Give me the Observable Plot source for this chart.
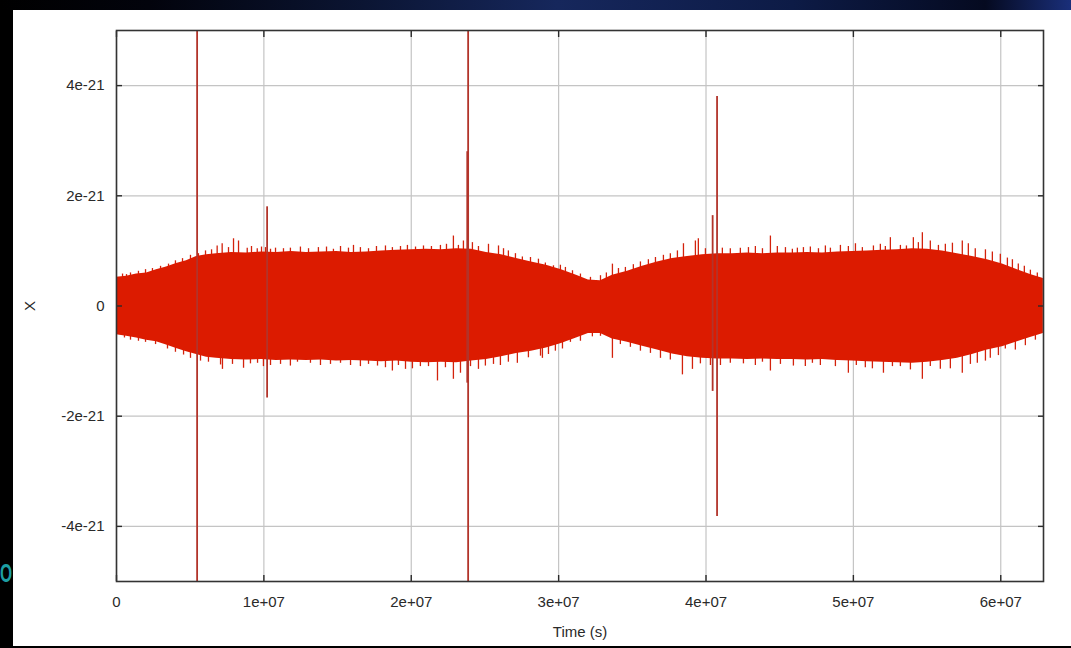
<!DOCTYPE html>
<html>
<head>
<meta charset="utf-8">
<script src="https://cdn.jsdelivr.net/npm/d3@7"></script>
<script src="https://cdn.jsdelivr.net/npm/@observablehq/plot@0.6"></script>
<style>
  html, body { margin: 0; padding: 0; }
  body { width: 1071px; height: 648px; overflow: hidden; position: relative; background: #000; font-family: "Liberation Sans", Arial, sans-serif; }
  #topstrip { position: absolute; left: 0; top: 0; width: 1071px; height: 10px;
    background: linear-gradient(90deg, #000 0%, #02030c 14%, #0b1533 34%, #16275c 52%, #0d1b46 74%, #050a20 92%, #1a2f7a 100%); }
  #panel { position: absolute; left: 13px; top: 10px; width: 1058px; height: 636px; background: #fff; }
  #logo { position: absolute; left: 0px; top: 560px; font: bold 26px/26px "Liberation Sans", Arial, sans-serif; color: #1d9ea3;
    transform: scaleX(0.6); transform-origin: 0 0; }
  #chart { position: absolute; left: 0; top: 0; }
</style>
</head>
<body>
<div id="topstrip"></div>
<div id="logo">O</div>
<div id="panel"></div>
<div id="chart"></div>
<script>
// ---- Data ----
// Envelope of the dense oscillating signal (time in s, strain X)
const envT = [0, 0.68e6, 1.36e6, 2.04e6, 2.71e6, 3.39e6, 4.07e6, 4.75e6, 5.43e6, 6.11e6,
  6.78e6, 7.80e6, 8.82e6, 9.84e6, 10.85e6, 11.87e6, 12.89e6, 13.91e6, 14.93e6, 15.94e6,
  16.96e6, 17.98e6, 19.00e6, 20.01e6, 21.03e6, 22.05e6, 23.07e6, 24.08e6, 25.10e6, 26.12e6,
  27.14e6, 28.15e6, 29.17e6, 30.19e6, 31.21e6, 32.02e6, 32.84e6, 33.65e6, 34.67e6, 35.69e6,
  36.70e6, 37.72e6, 38.74e6, 39.76e6, 40.78e6, 41.79e6, 42.81e6, 43.83e6, 44.84e6, 45.86e6,
  46.88e6, 47.90e6, 48.92e6, 49.93e6, 50.95e6, 51.97e6, 52.99e6, 54.00e6, 55.02e6, 56.04e6,
  57.06e6, 58.07e6, 59.09e6, 60.11e6, 61.13e6, 62.01e6, 62.89e6];
const envHi = [0.52e-21, 0.54e-21, 0.58e-21, 0.60e-21, 0.66e-21, 0.71e-21, 0.77e-21, 0.82e-21, 0.90e-21, 0.93e-21,
  0.95e-21, 0.97e-21, 0.96e-21, 0.98e-21, 0.97e-21, 0.99e-21, 0.97e-21, 0.98e-21, 0.99e-21, 0.97e-21,
  0.98e-21, 1.00e-21, 1.01e-21, 1.02e-21, 1.03e-21, 1.02e-21, 1.04e-21, 1.03e-21, 0.97e-21, 0.93e-21,
  0.86e-21, 0.80e-21, 0.74e-21, 0.66e-21, 0.56e-21, 0.47e-21, 0.46e-21, 0.56e-21, 0.63e-21, 0.72e-21,
  0.80e-21, 0.86e-21, 0.90e-21, 0.93e-21, 0.95e-21, 0.95e-21, 0.96e-21, 0.95e-21, 0.96e-21, 0.96e-21,
  0.97e-21, 0.96e-21, 0.98e-21, 0.99e-21, 1.00e-21, 1.01e-21, 1.02e-21, 1.04e-21, 1.03e-21, 1.00e-21,
  0.95e-21, 0.90e-21, 0.84e-21, 0.76e-21, 0.66e-21, 0.57e-21, 0.50e-21];
const envLo = [-0.52e-21, -0.55e-21, -0.58e-21, -0.62e-21, -0.65e-21, -0.71e-21, -0.77e-21, -0.83e-21, -0.88e-21, -0.93e-21,
  -0.95e-21, -0.97e-21, -0.98e-21, -0.97e-21, -0.99e-21, -0.98e-21, -0.99e-21, -0.98e-21, -1.00e-21, -0.99e-21,
  -1.00e-21, -1.01e-21, -1.00e-21, -1.02e-21, -1.03e-21, -1.02e-21, -1.03e-21, -1.00e-21, -0.97e-21, -0.92e-21,
  -0.86e-21, -0.82e-21, -0.76e-21, -0.68e-21, -0.58e-21, -0.50e-21, -0.50e-21, -0.60e-21, -0.66e-21, -0.73e-21,
  -0.80e-21, -0.87e-21, -0.92e-21, -0.95e-21, -0.96e-21, -0.96e-21, -0.97e-21, -0.96e-21, -0.97e-21, -0.97e-21,
  -0.98e-21, -0.97e-21, -0.99e-21, -1.00e-21, -1.01e-21, -1.02e-21, -1.03e-21, -1.04e-21, -1.02e-21, -0.99e-21,
  -0.95e-21, -0.88e-21, -0.80e-21, -0.74e-21, -0.65e-21, -0.57e-21, -0.50e-21];

// Larger excursions poking out of the envelope (upper and lower fringe)
const fringeUpT = [0.41e6, 0.95e6, 1.97e6, 2.99e6, 4.00e6, 5.02e6, 6.04e6, 6.83e6, 7.17e6, 7.94e6,
  8.28e6, 8.87e6, 9.55e6, 10.11e6, 10.79e6, 11.33e6, 12.48e6, 13.70e6, 15.20e6, 16.55e6,
  18.25e6, 19.27e6, 20.83e6, 21.98e6, 22.86e6, 23.54e6, 24.15e6, 25.92e6, 26.59e6, 27.54e6,
  29.10e6, 29.65e6, 30.46e6, 31.48e6, 33.65e6, 34.53e6, 35.55e6, 36.57e6, 37.58e6, 38.47e6,
  39.28e6, 39.48e6, 42.33e6, 43.35e6, 44.37e6, 45.39e6, 46.20e6, 47.08e6, 48.44e6, 49.12e6,
  50.14e6, 51.36e6, 52.51e6, 53.19e6, 54.07e6, 54.68e6, 55.22e6, 56.24e6, 57.39e6, 57.80e6,
  58.96e6, 60.45e6, 61.19e6, 62.01e6];
const fringeUpV = [0.58e-21, 0.60e-21, 0.66e-21, 0.72e-21, 0.82e-21, 0.92e-21, 1.00e-21, 1.09e-21, 1.13e-21, 1.22e-21,
  1.18e-21, 1.05e-21, 1.04e-21, 1.06e-21, 1.05e-21, 1.04e-21, 1.07e-21, 1.06e-21, 1.08e-21, 1.06e-21,
  1.09e-21, 1.08e-21, 1.09e-21, 1.10e-21, 1.27e-21, 1.18e-21, 1.15e-21, 1.09e-21, 1.00e-21, 0.89e-21,
  0.78e-21, 0.73e-21, 0.70e-21, 0.58e-21, 0.76e-21, 0.70e-21, 0.80e-21, 0.88e-21, 0.95e-21, 1.13e-21,
  1.18e-21, 1.22e-21, 1.05e-21, 1.08e-21, 1.27e-21, 1.06e-21, 1.05e-21, 1.07e-21, 1.05e-21, 1.10e-21,
  1.13e-21, 1.09e-21, 1.24e-21, 1.10e-21, 1.24e-21, 1.33e-21, 1.18e-21, 1.12e-21, 1.18e-21, 1.13e-21,
  1.02e-21, 0.87e-21, 0.76e-21, 0.65e-21];
const fringeLoT = [0.95e6, 1.97e6, 3.46e6, 4.55e6, 5.70e6, 7.06e6, 7.19e6, 8.62e6, 9.57e6, 10.45e6,
  12.28e6, 13.16e6, 14.52e6, 15.88e6, 17.71e6, 18.72e6, 19.61e6, 20.62e6, 21.78e6, 22.86e6,
  23.34e6, 25.03e6, 26.05e6, 27.20e6, 28.77e6, 28.90e6, 29.78e6, 30.80e6, 32.84e6, 33.65e6,
  34.87e6, 36.91e6, 38.40e6, 39.08e6, 39.62e6, 40.98e6, 42.54e6, 44.37e6, 45.93e6, 47.76e6,
  49.66e6, 50.81e6, 52.04e6, 53.19e6, 54.68e6, 55.90e6, 57.39e6, 58.41e6, 59.29e6, 60.31e6,
  61.67e6];
const fringeLoV = [-0.62e-21, -0.66e-21, -0.78e-21, -0.89e-21, -1.00e-21, -1.07e-21, -1.15e-21, -1.13e-21, -1.04e-21, -1.08e-21,
  -1.02e-21, -1.04e-21, -1.06e-21, -1.08e-21, -1.09e-21, -1.18e-21, -1.15e-21, -1.10e-21, -1.36e-21, -1.33e-21,
  -1.22e-21, -1.09e-21, -1.08e-21, -1.04e-21, -0.91e-21, -0.95e-21, -0.82e-21, -0.66e-21, -0.55e-21, -0.95e-21,
  -0.75e-21, -0.95e-21, -1.25e-21, -1.15e-21, -1.05e-21, -1.08e-21, -1.05e-21, -1.18e-21, -1.09e-21, -1.08e-21,
  -1.22e-21, -1.12e-21, -1.22e-21, -1.10e-21, -1.33e-21, -1.15e-21, -1.22e-21, -1.04e-21, -0.95e-21, -0.78e-21,
  -0.72e-21];

// Shorter hairs along the envelope edge
const hairUpT = [0.68e6, 1.49e6, 2.44e6, 3.53e6, 4.48e6, 5.56e6, 6.45e6, 7.60e6, 9.16e6, 9.84e6,
  10.45e6, 11.80e6, 13.03e6, 14.25e6, 14.72e6, 15.74e6, 16.08e6, 17.10e6, 17.64e6, 18.72e6,
  19.74e6, 20.29e6, 21.37e6, 22.39e6, 23.20e6, 24.56e6, 25.24e6, 26.26e6, 27.07e6, 28.09e6,
  28.63e6, 30.12e6, 30.94e6, 32.16e6, 32.84e6, 33.24e6, 34.06e6, 35.07e6, 36.09e6, 37.11e6,
  38.06e6, 39.96e6, 41.11e6, 41.65e6, 42.88e6, 43.83e6, 44.84e6, 45.86e6, 46.61e6, 47.63e6,
  48.10e6, 49.66e6, 50.61e6, 51.83e6, 52.17e6, 53.60e6, 54.41e6, 55.77e6, 56.72e6, 58.27e6,
  59.43e6, 59.97e6, 60.79e6, 61.60e6, 62.48e6];
const hairUpV = [0.57e-21, 0.63e-21, 0.68e-21, 0.76e-21, 0.86e-21, 0.95e-21, 1.02e-21, 1.06e-21, 1.08e-21, 1.07e-21,
  1.03e-21, 1.05e-21, 1.04e-21, 1.07e-21, 1.03e-21, 1.05e-21, 1.10e-21, 1.04e-21, 1.08e-21, 1.06e-21,
  1.10e-21, 1.07e-21, 1.08e-21, 1.12e-21, 1.10e-21, 1.08e-21, 1.12e-21, 1.04e-21, 0.95e-21, 0.88e-21,
  0.85e-21, 0.74e-21, 0.64e-21, 0.52e-21, 0.55e-21, 0.60e-21, 0.68e-21, 0.75e-21, 0.84e-21, 0.92e-21,
  1.00e-21, 1.04e-21, 1.05e-21, 1.04e-21, 1.06e-21, 1.04e-21, 1.08e-21, 1.03e-21, 1.06e-21, 1.04e-21,
  1.09e-21, 1.08e-21, 1.06e-21, 1.12e-21, 1.08e-21, 1.09e-21, 1.15e-21, 1.10e-21, 1.14e-21, 1.04e-21,
  0.98e-21, 0.94e-21, 0.84e-21, 0.72e-21, 0.60e-21];
const hairLoT = [0.54e6, 1.49e6, 2.65e6, 4.00e6, 5.02e6, 6.24e6, 7.87e6, 9.09e6, 9.97e6, 11.13e6,
  11.80e6, 13.84e6, 15.20e6, 16.55e6, 17.10e6, 18.25e6, 19.13e6, 20.08e6, 21.17e6, 22.32e6,
  24.02e6, 24.56e6, 25.58e6, 26.59e6, 27.95e6, 29.31e6, 30.26e6, 31.48e6, 32.29e6, 34.19e6,
  35.55e6, 36.23e6, 37.58e6, 40.30e6, 41.65e6, 43.35e6, 43.83e6, 45.05e6, 46.74e6, 47.22e6,
  48.78e6, 50.20e6, 51.29e6, 52.65e6, 53.87e6, 55.22e6, 56.58e6, 57.94e6, 58.96e6, 59.84e6,
  60.99e6, 62.35e6];
const hairLoV = [-0.58e-21, -0.64e-21, -0.70e-21, -0.84e-21, -0.95e-21, -1.02e-21, -1.06e-21, -1.05e-21, -1.10e-21, -1.06e-21,
  -1.09e-21, -1.08e-21, -1.04e-21, -1.10e-21, -1.06e-21, -1.12e-21, -1.08e-21, -1.14e-21, -1.10e-21, -1.12e-21,
  -1.10e-21, -1.15e-21, -1.06e-21, -1.02e-21, -0.94e-21, -0.88e-21, -0.78e-21, -0.64e-21, -0.56e-21, -0.70e-21,
  -0.82e-21, -0.86e-21, -0.98e-21, -1.08e-21, -1.04e-21, -1.08e-21, -1.02e-21, -1.06e-21, -1.10e-21, -1.04e-21,
  -1.10e-21, -1.08e-21, -1.14e-21, -1.10e-21, -1.16e-21, -1.10e-21, -1.14e-21, -1.06e-21, -1.00e-21, -0.90e-21,
  -0.80e-21, -0.62e-21];

// Large spikes (glitches / signals)
const spikeT  = [5.47e6, 10.22e6, 23.80e6, 23.86e6, 40.45e6, 40.75e6];
const spikeHi = [5.0e-21, 1.80e-21, 2.80e-21, 5.0e-21, 1.64e-21, 3.80e-21];
const spikeLo = [-5.0e-21, -1.67e-21, -1.40e-21, -5.0e-21, -1.55e-21, -3.82e-21];

// Axes
const xTicks = [0, 1e7, 2e7, 3e7, 4e7, 5e7, 6e7];
const xTickLabels = ["0", "1e+07", "2e+07", "3e+07", "4e+07", "5e+07", "6e+07"];
const yTicks = [-4e-21, -2e-21, 0, 2e-21, 4e-21];
const yTickLabels = ["-4e-21", "-2e-21", "0", "2e-21", "4e-21"];
const xDomain = [0, 6.29e7];
const yDomain = [-5e-21, 5e-21];
const xLabel = "Time (s)";
const yLabel = "X";

// ---- Build tables ----
const env = envT.map((t, i) => ({t, hi: envHi[i], lo: envLo[i]}));
const fUp = fringeUpT.map((t, i) => ({t, v: fringeUpV[i]}));
const fLo = fringeLoT.map((t, i) => ({t, v: fringeLoV[i]}));
const hUp = hairUpT.map((t, i) => ({t, v: hairUpV[i]}));
const hLo = hairLoT.map((t, i) => ({t, v: hairLoV[i]}));
const spikes = spikeT.map((t, i) => ({t, hi: spikeHi[i], lo: spikeLo[i]}));
const xLab = new Map(xTicks.map((d, i) => [d, xTickLabels[i]]));
const yLab = new Map(yTicks.map((d, i) => [d, yTickLabels[i]]));

const RED = "#dc1b00";
const FRINGE = "#d3220c";
const SPIKE = "#b2342a";
const GRID = "#c4c4c4";
const INK = "#2a2a2a";

const chart = Plot.plot({
  width: 1071,
  height: 648,
  marginLeft: 116,
  marginRight: 28,
  marginTop: 30,
  marginBottom: 67,
  style: {background: "transparent", fontFamily: "'Liberation Sans', Arial, sans-serif", fontSize: "15px", color: INK},
  x: {domain: xDomain},
  y: {domain: yDomain},
  marks: [
    Plot.gridX(xTicks, {stroke: GRID, strokeOpacity: 1, strokeWidth: 1.2}),
    Plot.gridY(yTicks, {stroke: GRID, strokeOpacity: 1, strokeWidth: 1.2}),
    Plot.ruleX(hUp, {x: "t", y1: 0, y2: "v", stroke: FRINGE, strokeWidth: 1.3, clip: true}),
    Plot.ruleX(hLo, {x: "t", y1: 0, y2: "v", stroke: FRINGE, strokeWidth: 1.3, clip: true}),
    Plot.ruleX(fUp, {x: "t", y1: 0, y2: "v", stroke: FRINGE, strokeWidth: 1.3, clip: true}),
    Plot.ruleX(fLo, {x: "t", y1: 0, y2: "v", stroke: FRINGE, strokeWidth: 1.3, clip: true}),
    Plot.areaY(env, {x: "t", y1: "lo", y2: "hi", fill: RED, clip: true}),
    Plot.ruleX(spikes, {x: "t", y1: "lo", y2: "hi", stroke: SPIKE, strokeWidth: 1.8, clip: true}),
    // tick labels + axis titles
    Plot.axisX(xTicks, {anchor: "bottom", tickSize: 0, tickPadding: 15, tickFormat: d => xLab.get(d),
      label: xLabel, labelAnchor: "center", labelArrow: "none", labelOffset: 55, fill: INK}),
    Plot.axisY(yTicks, {anchor: "left", tickSize: 0, tickPadding: 12, tickFormat: d => yLab.get(d),
      label: yLabel, labelAnchor: "center", labelArrow: "none", labelOffset: 92, fill: INK}),
    // inward tick marks on all four sides (gnuplot style)
    Plot.axisX(xTicks, {anchor: "bottom", tickSize: 6, dy: -6, fill: "none", label: null, stroke: INK, strokeWidth: 1.4}),
    Plot.axisX(xTicks, {anchor: "top", tickSize: 6, dy: 6, fill: "none", label: null, stroke: INK, strokeWidth: 1.4}),
    Plot.axisY(yTicks, {anchor: "left", tickSize: 6, dx: 6, fill: "none", label: null, stroke: INK, strokeWidth: 1.4}),
    Plot.axisY(yTicks, {anchor: "right", tickSize: 6, dx: -6, fill: "none", label: null, stroke: INK, strokeWidth: 1.4}),
    Plot.frame({stroke: "#333", strokeWidth: 1.6})
  ]
});
document.getElementById("chart").appendChild(chart);
</script>
</body>
</html>
